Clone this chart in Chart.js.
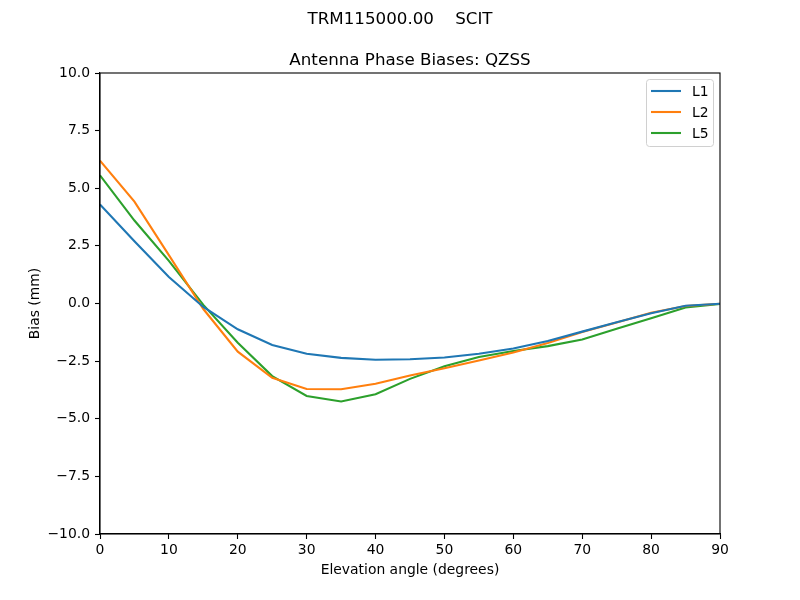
<!DOCTYPE html>
<html>
<head>
<meta charset="utf-8">
<script src="https://cdn.jsdelivr.net/npm/chart.js@4.4.1/dist/chart.umd.min.js"></script>
<style>
  html, body { margin: 0; padding: 0; background: #fff; }
  canvas { display: block; }
</style>
</head>
<body>
<canvas id="myChart" width="800" height="600"></canvas>
<script>
// elevation angles (degrees)
const elevation = [0, 5, 10, 15, 20, 25, 30, 35, 40, 45, 50, 55, 60, 65, 70, 75, 80, 85, 90];

// bias values (mm)
const biasL1 = [4.30, 2.70, 1.15, -0.15, -1.12, -1.80, -2.18, -2.36, -2.44, -2.42, -2.34, -2.18, -1.95, -1.63, -1.22, -0.81, -0.42, -0.10, -0.01];
const biasL2 = [6.20, 4.42, 2.10, -0.24, -2.09, -3.22, -3.71, -3.72, -3.48, -3.12, -2.81, -2.47, -2.13, -1.71, -1.24, -0.82, -0.40, -0.11, -0.01];
const biasL5 = [5.56, 3.60, 1.85, -0.06, -1.70, -3.15, -4.01, -4.25, -3.94, -3.27, -2.72, -2.32, -2.06, -1.85, -1.56, -1.10, -0.64, -0.17, -0.02];

const seriesNames = ['L1', 'L2', 'L5'];
const seriesColors = ['#1f77b4', '#ff7f0e', '#2ca02c'];

const figTitle = 'TRM115000.00    SCIT';
const axTitle = 'Antenna Phase Biases: QZSS';
const xLabel = 'Elevation angle (degrees)';
const yLabel = 'Bias (mm)';

const FONT = 'DejaVu Sans';

const toPoints = vals => vals.map((v, i) => ({ x: elevation[i], y: v }));

// titles, frame and legend, drawn like matplotlib does
const extras = {
    id: 'extras',
    afterDraw(chart) {
        const ctx = chart.ctx;
        const a = chart.chartArea;
        ctx.save();

        // top and right spines
        ctx.strokeStyle = '#000';
        ctx.lineWidth = 1.1;
        ctx.strokeRect(a.left, a.top, a.right - a.left, a.bottom - a.top);

        // titles
        ctx.fillStyle = '#000';
        ctx.textAlign = 'center';
        ctx.textBaseline = 'alphabetic';
        ctx.font = '16.7px "' + FONT + '"';
        ctx.fillText(figTitle, 400, 24);
        ctx.fillText(axTitle, (a.left + a.right) / 2, 65);

        // legend box
        const bx = a.right - 74, by = 79, bw = 67, bh = 67;
        ctx.fillStyle = 'rgba(255,255,255,0.8)';
        ctx.strokeStyle = '#d0d0d0';
        ctx.lineWidth = 1;
        ctx.beginPath();
        ctx.roundRect(bx + 0.5, by + 0.5, bw, bh, 3);
        ctx.fill();
        ctx.stroke();

        ctx.font = '13.9px "' + FONT + '"';
        ctx.textAlign = 'left';
        ctx.textBaseline = 'middle';
        chart.data.datasets.forEach((ds, i) => {
            const yy = by + 12 + i * 21;
            ctx.strokeStyle = ds.borderColor;
            ctx.lineWidth = 2.1;
            ctx.beginPath();
            ctx.moveTo(bx + 5, yy);
            ctx.lineTo(bx + 35, yy);
            ctx.stroke();
            ctx.fillStyle = '#000';
            ctx.fillText(ds.label, bx + 46, yy + 1);
        });
        ctx.restore();
    }
};

const ctx = document.getElementById('myChart').getContext('2d');
const myChart = new Chart(ctx, {
    type: 'line',
    data: {
        datasets: [biasL1, biasL2, biasL5].map((vals, i) => ({
            label: seriesNames[i],
            data: toPoints(vals),
            borderColor: seriesColors[i],
            backgroundColor: seriesColors[i],
            borderWidth: 2.1,
            pointRadius: 0,
            tension: 0,
            fill: false
        }))
    },
    options: {
        responsive: false,
        animation: false,
        layout: { padding: { top: 73, right: 80, left: 0, bottom: 0 } },
        plugins: {
            legend: { display: false },
            tooltip: { enabled: false }
        },
        scales: {
            x: {
                type: 'linear',
                min: 0,
                max: 90,
                afterFit: scale => { scale.height = 66; },
                ticks: {
                    stepSize: 10,
                    color: '#000',
                    padding: 3,
                    maxRotation: 0,
                    font: { family: FONT, size: 13.9 }
                },
                grid: { drawOnChartArea: false, drawTicks: true, tickLength: 5, color: '#000', tickWidth: 1.1 },
                border: { display: true, color: '#000', width: 1.1 },
                title: {
                    display: true,
                    text: xLabel,
                    color: '#000',
                    font: { family: FONT, size: 13.9 },
                    padding: { top: 0, bottom: 21 }
                }
            },
            y: {
                min: -10,
                max: 10,
                afterFit: scale => { scale.width = 100; },
                ticks: {
                    stepSize: 2.5,
                    color: '#000',
                    padding: 5,
                    font: { family: FONT, size: 13.9 },
                    callback: v => v.toFixed(1).replace('-', '\u2212')
                },
                grid: { drawOnChartArea: false, drawTicks: true, tickLength: 5, color: '#000', tickWidth: 1.1 },
                border: { display: true, color: '#000', width: 1.1 },
                title: {
                    display: true,
                    text: yLabel,
                    color: '#000',
                    font: { family: FONT, size: 13.9 },
                    padding: { top: 27, bottom: 0 }
                }
            }
        }
    },
    plugins: [extras]
});
</script>
</body>
</html>
